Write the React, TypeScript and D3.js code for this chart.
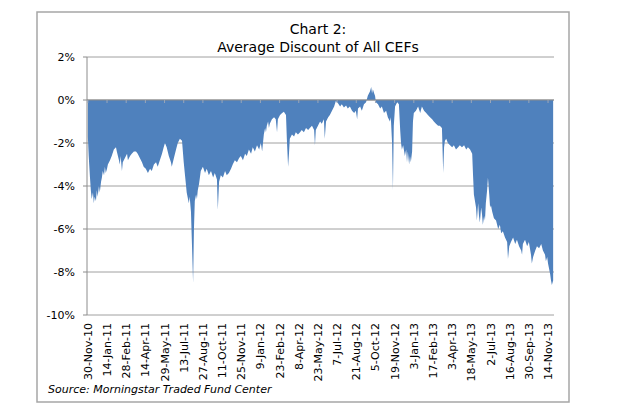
import React from "react";
import * as d3 from "d3";

// Days since 30-Nov-2010 (date of each observation)
const dayOffsets = [
  0, 2, 5, 7, 9, 12, 14, 16, 19, 21, 23, 26, 28, 31, 33, 35, 38, 40, 42, 45, 47, 52, 56, 61, 66, 68, 73, 75, 77, 80, 82, 87, 92, 94, 99, 103, 108, 113, 117, 122, 127, 131, 136, 141, 146, 150, 155, 160, 164, 169, 174, 178, 181, 185, 190, 195, 197, 202, 207, 211, 216, 221, 223, 225, 228, 230, 232, 235, 237, 239, 242, 244, 247, 249, 251, 254, 256, 258, 261, 263, 265, 270, 275, 279, 284, 289, 294, 298, 303, 305, 308, 312, 317, 322, 326, 331, 336, 340, 345, 350, 355, 359, 364, 369, 373, 378, 383, 387, 392, 397, 402, 406, 409, 411, 413, 416, 418, 420, 423, 425, 427, 432, 437, 441, 444, 446, 451, 456, 460, 465, 467, 470, 472, 474, 479, 484, 488, 493, 498, 502, 507, 512, 517, 521, 526, 531, 533, 535, 540, 545, 549, 554, 556, 559, 564, 568, 573, 578, 582, 587, 592, 596, 601, 606, 610, 615, 620, 625, 629, 632, 634, 639, 643, 648, 653, 657, 662, 665, 667, 669, 672, 674, 676, 681, 686, 690, 695, 700, 704, 709, 711, 714, 716, 718, 721, 726, 730, 733, 735, 737, 740, 744, 747, 749, 751, 754, 756, 758, 761, 763, 765, 770, 775, 780, 784, 789, 794, 798, 803, 808, 812, 817, 822, 826, 831, 834, 836, 838, 841, 845, 850, 855, 859, 864, 869, 873, 878, 883, 888, 892, 897, 902, 904, 906, 911, 913, 916, 918, 920, 923, 925, 927, 930, 932, 934, 937, 939, 942, 944, 946, 949, 953, 958, 963, 967, 970, 974, 979, 984, 986, 989, 993, 998, 1003, 1007, 1012, 1017, 1019, 1021, 1026, 1031, 1035, 1040, 1042, 1045, 1050, 1054, 1059, 1064, 1068, 1073, 1075, 1078, 1080, 1082, 1085, 1087, 1089, 1092,
];

// Average discount (%)
const discountValues = [
  -1.7, -2.6, -3.6, -4.2, -4.6, -4.3, -4.8, -4.5, -4.7, -4.2, -4.5, -4.0, -4.3, -3.8, -3.6, -3.3, -3.5, -3.1, -3.4, -3.2, -3.0, -2.8, -2.6, -2.3, -2.2, -2.4, -2.8, -3.0, -2.6, -3.3, -2.9, -2.7, -2.5, -2.8, -2.6, -2.5, -2.4, -2.4, -2.5, -2.7, -2.9, -3.1, -3.2, -3.4, -3.2, -3.3, -3.0, -2.9, -3.1, -2.8, -2.5, -2.2, -2.0, -2.2, -2.6, -2.9, -3.1, -2.7, -2.3, -2.0, -1.8, -1.9, -2.4, -2.9, -3.5, -3.9, -4.3, -4.6, -4.8, -4.5, -5.2, -6.5, -8.5, -6.0, -4.7, -4.4, -4.6, -4.2, -3.9, -3.6, -3.3, -3.1, -3.4, -3.2, -3.5, -3.3, -3.6, -3.4, -3.7, -5.1, -3.8, -3.5, -3.6, -3.3, -3.5, -3.4, -3.2, -3.0, -2.8, -2.9, -2.7, -2.6, -2.8, -2.5, -2.6, -2.3, -2.5, -2.2, -2.4, -2.1, -2.3, -2.0, -2.4, -2.0, -1.6, -1.3, -1.5, -1.2, -1.0, -1.3, -1.1, -0.9, -0.8, -0.9, -1.5, -0.9, -0.7, -0.6, -0.55, -0.7, -1.8, -3.1, -2.5, -1.8, -1.6, -1.7, -1.5, -1.6, -1.5, -1.4, -1.5, -1.3, -1.4, -1.3, -1.2, -1.4, -2.1, -1.4, -1.2, -1.0, -1.1, -0.9, -1.8, -1.0, -0.8, -0.7, -0.5, -0.3, -0.05, -0.15, -0.3, -0.2, -0.35, -0.25, -0.4, -0.3, -0.5, -0.6, -0.5, -0.9, -0.4, -0.3, -0.5, -0.2, -0.1, 0.2, 0.4, 0.6, 0.3, 0.5, 0.3, 0.2, -0.1, -0.2, -0.4, -0.3, -0.6, -0.5, -0.8, -1.0, -0.8, -2.0, -4.2, -1.2, -0.3, -0.1, -0.2, -1.4, -2.0, -2.3, -2.1, -2.6, -2.3, -2.9, -2.4, -3.0, -2.6, -2.9, -2.4, -1.0, -0.6, -0.5, -0.3, -0.6, -0.3, -0.5, -0.6, -0.7, -0.8, -0.9, -1.0, -1.1, -1.2, -1.2, -1.3, -3.4, -2.2, -1.9, -1.8, -2.0, -2.1, -2.2, -2.1, -2.3, -2.2, -2.1, -2.2, -2.1, -2.3, -2.2, -2.3, -2.5, -3.5, -4.4, -5.0, -5.6, -4.8, -5.4, -5.7, -5.0, -5.3, -5.8, -5.4, -5.6, -4.8, -4.2, -3.6, -4.4, -5.0, -4.9, -5.2, -5.5, -5.6, -6.0, -5.8, -6.2, -6.1, -6.4, -6.6, -7.4, -6.8, -6.6, -6.4, -6.7, -6.5, -6.8, -7.0, -7.2, -6.7, -6.5, -6.8, -6.6, -7.2, -7.6, -7.3, -7.0, -6.8, -6.9, -6.7, -7.0, -7.2, -7.5, -7.3, -7.6, -7.8, -8.1, -8.4, -8.6, -8.4,
];

const xTickLabels = [
  "30-Nov-10", "14-Jan-11", "28-Feb-11", "14-Apr-11", "29-May-11", "13-Jul-11", "27-Aug-11", "11-Oct-11", "25-Nov-11",
  "9-Jan-12", "23-Feb-12", "8-Apr-12", "23-May-12", "7-Jul-12", "21-Aug-12", "5-Oct-12", "19-Nov-12",
  "3-Jan-13", "17-Feb-13", "3-Apr-13", "18-May-13", "2-Jul-13", "16-Aug-13", "30-Sep-13", "14-Nov-13",
];

const yTicks = [2, 0, -2, -4, -6, -8, -10];

const titleLines = ["Chart 2:", "Average Discount of All CEFs"];
const sourceText = "Source: Morningstar Traded Fund Center";

const START = new Date(2010, 10, 30);
const FONT = "'DejaVu Sans', Verdana, sans-serif";

export default function App() {
  const W = 620, H = 413;
  const left = 87, right = 554, top = 57, bottom = 315;

  const x = d3
    .scaleTime()
    .domain([d3.timeDay.offset(START, -2), d3.timeDay.offset(START, 1094)])
    .range([left, right]);
  const y = d3.scaleLinear().domain([2, -10]).range([top, bottom]);

  const data = dayOffsets.map((d, i) => ({
    date: d3.timeDay.offset(START, d),
    v: discountValues[i],
  }));

  const area = d3
    .area<{ date: Date; v: number }>()
    .x((d) => x(d.date))
    .y0(y(0))
    .y1((d) => y(d.v));

  const parse = d3.timeParse("%d-%b-%y");
  const tickDates = xTickLabels.map((s) => parse(s) as Date);
  const fmt = (v: number) => `${v}%`;

  return (
    <svg
      width={W}
      height={H}
      style={{ position: "absolute", left: 0, top: 0, background: "#fff" }}
      fontFamily={FONT}
    >
      <rect x={0} y={0} width={W} height={H} fill="#fff" />
      <rect x={37} y={12} width={532} height={390} fill="#fff" stroke="#a6a6a6" strokeWidth={1.5} />

      {titleLines.map((t, i) => (
        <text key={t} x={318} y={34 + i * 18} textAnchor="middle" fontSize={14} fill="#000">
          {t}
        </text>
      ))}

      {/* gridlines */}
      {yTicks.map((t) => (
        <line key={t} x1={left} x2={right} y1={y(t)} y2={y(t)} stroke="#a0a0a0" strokeWidth={1} />
      ))}

      <path d={area(data) || ""} fill="#4F81BD" />

      {/* y axis */}
      <line x1={left} x2={left} y1={top} y2={bottom} stroke="#8c8c8c" strokeWidth={1} />
      {yTicks.map((t) => (
        <g key={"yt" + t}>
          <line x1={left - 4} x2={left} y1={y(t)} y2={y(t)} stroke="#8c8c8c" />
          <text x={75} y={y(t)} dy="0.35em" textAnchor="end" fontSize={11} fill="#000">
            {fmt(t)}
          </text>
        </g>
      ))}

      {/* x axis at 0 */}
      <line x1={left} x2={right} y1={y(0)} y2={y(0)} stroke="#8c8c8c" strokeWidth={1} />
      {tickDates.map((d, i) => (
        <line key={"xt" + i} x1={x(d)} x2={x(d)} y1={y(0)} y2={y(0) + 3} stroke="#9aa6b8" />
      ))}
      {tickDates.map((d, i) => (
        <text
          key={"xl" + i}
          transform={`translate(${x(d) + 4},${323}) rotate(-90)`}
          textAnchor="end"
          fontSize={11}
          fill="#000"
        >
          {xTickLabels[i]}
        </text>
      ))}

      <text x={48} y={393} fontSize={11} fontStyle="italic" fill="#000">
        {sourceText}
      </text>
    </svg>
  );
}
